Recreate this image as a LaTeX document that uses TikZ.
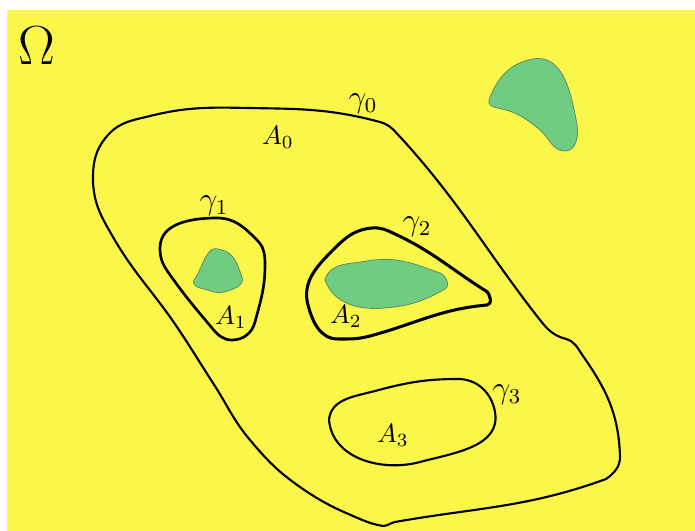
\documentclass[tikz,border=0pt]{standalone}
\usetikzlibrary{positioning}
\definecolor{fondo}{RGB}{250,247,74}
\definecolor{verde}{RGB}{111,204,128}
\definecolor{bordo}{RGB}{95,140,100}
\begin{document}
\begin{tikzpicture}[x=0.377pt,y=-0.377pt,
  curva/.style={black,line width=0.8pt},
  macchia/.style={fill=verde,draw=bordo,line width=0.3pt},
  etic/.style={inner sep=0pt}]
\useasboundingbox (0,0) rectangle (695,531);
\fill[fondo] (7,10) rectangle (695,531);
% gamma_0
\draw[curva] (93,182) to[out=91,in=-132] (108,135) to[out=48,in=-166] (150,116)
  to[out=14,in=179] (250,108) to[out=-1,in=165] (380,122)
  to[out=-15,in=135] (403,140) to[out=-48,in=128] (540,320)
  to[out=-52,in=165] (566,339) to[out=-15,in=125] (583,356)
  to[out=-55,in=92] (620,456) to[out=-88,in=35] (606,479)
  to[out=-160,in=10] (395,522) to[out=-170,in=0] (383,526)
  to[out=170,in=-23] (360,519) to[out=157,in=-35] (300,487)
  to[out=145,in=-50] (250,440) to[out=130,in=-57] (213,383)
  to[out=123,in=-56] (177,327) to[out=124,in=-60] (113,237)
  to[out=120,in=-87] (93,182) -- cycle;
% gamma_1
\draw[curva,line width=1pt] (217,218) to[out=0,in=135] (257,240)
  to[out=-45,in=90] (265,265) to[out=-90,in=75] (255,322)
  to[out=-105,in=0] (232,340) to[out=180,in=-50] (212,328)
  to[out=130,in=-55] (168,272) to[out=125,in=-90] (160,248)
  to[out=90,in=180] (217,218) -- cycle;
\draw[macchia] (194,280) to[out=55,in=-130] (210,251) to[out=50,in=165] (222,250)
  to[out=-15,in=110] (242,277) to[out=-70,in=15] (224,292)
  to[out=195,in=-10] (200,288) to[out=170,in=-125] (194,280) -- cycle;
% gamma_2
\draw[curva,line width=1.15pt] (372,228) to[out=5,in=155] (395,234)
  to[out=-25,in=148] (486,291) to[out=-32,in=0] (487,305)
  to[out=185,in=15] (370,336) to[out=195,in=0] (338,339)
  to[out=180,in=-75] (308,305) to[out=105,in=-135] (335,248)
  to[out=45,in=185] (372,228) -- cycle;
\draw[macchia] (325,280) to[out=75,in=190] (367,261) to[out=10,in=160] (440,273)
  to[out=-20,in=30] (445,289) to[out=210,in=5] (385,308)
  to[out=185,in=-70] (325,280) -- cycle;
% gamma_3
\draw[curva] (329,420) to[out=85,in=195] (375,391) to[out=15,in=180] (458,379)
  to[out=0,in=100] (495,412) to[out=-80,in=15] (420,462)
  to[out=195,in=-85] (329,420) -- cycle;
% macchia isolata
\draw[macchia] (489,100) to[out=70,in=190] (533,59) to[out=10,in=100] (577,125)
  to[out=-80,in=0] (565,151) to[out=180,in=-40] (540,130)
  to[out=140,in=-10] (497,108) to[out=170,in=-110] (489,100) -- cycle;
\node[etic,font=\huge] (om) at (37,46) {$\Omega$};
\node[etic,font=\large] (g0) at (363,104) {$\gamma_0$};
\node[etic] (a0) at (278,137) {$A_0$};
\node[etic,font=\large] (g1) at (214,206) {$\gamma_1$};
\node[etic] (a1) at (231,317) {$A_1$};
\node[etic,font=\large] (g2) at (417,227) {$\gamma_2$};
\node[etic] (a2) at (346,316) {$A_2$};
\node[etic,font=\large] (g3) at (507,395) {$\gamma_3$};
\node[etic] (a3) at (393,435) {$A_3$};
\end{tikzpicture}
\end{document}
